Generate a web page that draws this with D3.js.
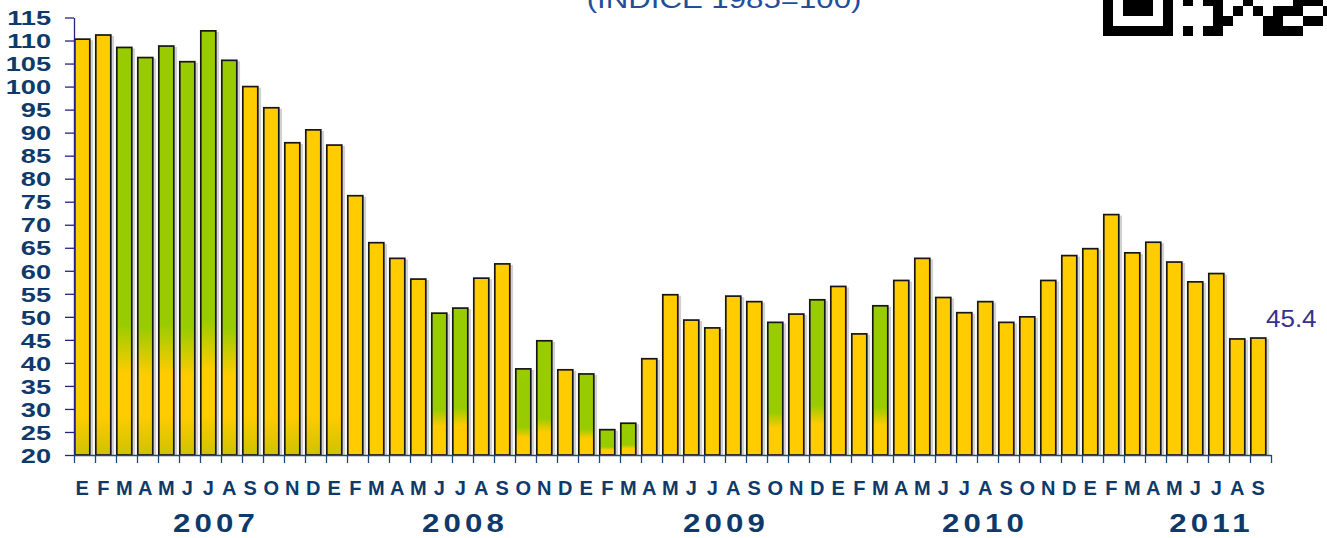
<!DOCTYPE html>
<html>
<head>
<meta charset="utf-8">
<script src="https://cdn.jsdelivr.net/npm/d3@7"></script>
<style>
  html, body { margin: 0; padding: 0; background: #fff; }
  svg { display: block; }
  text { font-family: "Liberation Sans", Arial, sans-serif; }
</style>
</head>
<body>
<svg id="chart" width="1327" height="538"></svg>
<script>
// ---------------- DATA ----------------
const title = "(INDICE 1985=100)";
const monthLetters = ["E","F","M","A","M","J","J","A","S","O","N","D"];
const years = [2007, 2008, 2009, 2010, 2011];
const monthsPerYear = [12, 12, 12, 12, 9];
const values = [
  110.3, 111.2, 108.5, 106.3, 108.8, 105.4, 112.1, 105.7, 100.0, 95.4, 87.8, 90.6,
  87.3, 76.3, 66.1, 62.7, 58.2, 50.8, 51.9, 58.4, 61.5, 38.7, 44.8, 38.5,
  37.6, 25.5, 26.9, 40.9, 54.8, 49.3, 47.6, 54.5, 53.3, 48.8, 50.6, 53.7,
  56.6, 46.3, 52.4, 57.9, 62.7, 54.2, 50.9, 53.3, 48.8, 50.0, 57.9, 63.3,
  64.8, 72.2, 63.9, 66.2, 61.9, 57.6, 59.4, 45.2, 45.4
];
const highlighted = [
  0,0,1,1,1,1,1,1,0,0,0,0,
  0,0,0,0,0,1,1,0,0,1,1,0,
  1,1,1,0,0,0,0,0,0,1,0,1,
  0,0,1,0,0,0,0,0,0,0,0,0,
  0,0,0,0,0,0,0,0,0
];
const yTicks = [20,25,30,35,40,45,50,55,60,65,70,75,80,85,90,95,100,105,110,115];
const lastLabel = "45.4";

// build categories
const categories = [];
years.forEach((yr, yi) => {
  for (let m = 0; m < monthsPerYear[yi]; m++) {
    categories.push({ year: yr, month: monthLetters[m], yi: yi });
  }
});
const bars = categories.map((c, i) => ({ ...c, i, v: values[i], hl: highlighted[i] }));

// ---------------- LAYOUT ----------------
const svg = d3.select("#chart");
const X0 = 74, X1 = 1271, Y0 = 455, Y1 = 17.5;
const navy = "#0e3a6b";

const x = d3.scaleBand().domain(d3.range(bars.length)).range([X0, X1]).paddingInner(0).paddingOuter(0);
const xb = d3.scaleLinear().domain([0, bars.length]).range([X0, X1]);
const y = d3.scaleLinear().domain([20, 115]).range([Y0, Y1]);
const bw = x.step() * 0.79;

const GREEN = "#99cc00", YELLOW = "#ffcc00", OLIVE = "#cfc200";

// gradients per bar
const defs = svg.append("defs");
bars.forEach(b => {
  const h = Y0 - y(b.v);
  const g = defs.append("linearGradient").attr("id", "g" + b.i)
    .attr("x1", 0).attr("y1", 0).attr("x2", 0).attr("y2", 1);
  const stops = [];
  const frac = px => Math.max(0, Math.min(1, 1 - px / h));
  if (b.hl) {
    stops.push([0, GREEN]);
    stops.push([frac(h * 0.32), GREEN]);
    stops.push([frac(h * 0.2), YELLOW]);
  } else {
    stops.push([0, YELLOW]);
  }
  if (h > 280) {
    stops.push([frac(40), YELLOW]);
    stops.push([1, OLIVE]);
  } else {
    stops.push([1, YELLOW]);
  }
  stops.forEach(s => g.append("stop").attr("offset", s[0]).attr("stop-color", s[1]));
});

// shadows
svg.append("g").selectAll("rect").data(bars).join("rect")
  .attr("x", d => x(d.i) + 2.5)
  .attr("y", d => y(d.v) + 1)
  .attr("width", bw)
  .attr("height", d => Y0 - y(d.v) - 1)
  .attr("fill", "#9a9a9a")
  .attr("opacity", 0.45);

// bars
svg.append("g").selectAll("rect").data(bars).join("rect")
  .attr("x", d => x(d.i) + 0.8)
  .attr("y", d => y(d.v))
  .attr("width", bw - 1.6)
  .attr("height", d => Y0 - y(d.v))
  .attr("fill", d => `url(#g${d.i})`)
  .attr("stroke", "#161616")
  .attr("stroke-width", 1.7);

// y axis
const yAxis = svg.append("g").attr("transform", `translate(${X0},0)`)
  .call(d3.axisLeft(y).tickValues(yTicks).tickSize(9).tickSizeOuter(0).tickPadding(0));
yAxis.select(".domain").attr("stroke", "#22228a").attr("stroke-width", 1.3);
yAxis.selectAll(".tick line").attr("stroke", "#22228a").attr("stroke-width", 1.3);
const ysx = 1.36;
yAxis.selectAll(".tick text")
  .attr("x", -23 / ysx)
  .attr("dy", "0.36em")
  .attr("transform", `scale(${ysx},1)`)
  .attr("fill", navy)
  .attr("font-size", 20)
  .attr("font-weight", "bold")
  .attr("font-family", "Liberation Sans, Arial, sans-serif");

// x axis (ticks at band boundaries)
const xAxis = svg.append("g").attr("transform", `translate(0,${Y0})`)
  .call(d3.axisBottom(xb).tickValues(d3.range(0, bars.length + 1)).tickSize(8).tickSizeOuter(0).tickFormat(""));
xAxis.select(".domain").attr("stroke", "#1f4a7c").attr("stroke-width", 1.3);
xAxis.selectAll(".tick line").attr("stroke", "#1f4a7c").attr("stroke-width", 1.3);

// month letters
svg.append("g").selectAll("text").data(bars).join("text")
  .attr("x", d => x(d.i) + bw / 2)
  .attr("y", 495)
  .attr("text-anchor", "middle")
  .attr("font-size", 20)
  .attr("font-weight", "bold")
  .attr("fill", navy)
  .text(d => d.month);

// year labels
const yearShift = [16, 13, 22, 29, 35];
const ysc = 1.2;
let start = 0;
years.forEach((yr, yi) => {
  const n = monthsPerYear[yi];
  const cx = (x(start) + x(start + n - 1) + x.step()) / 2 + yearShift[yi];
  start += n;
  svg.append("text")
    .attr("transform", `translate(${cx},532) scale(${ysc},1)`)
    .attr("text-anchor", "middle")
    .attr("font-size", 26)
    .attr("font-weight", "bold")
    .attr("letter-spacing", 3.5)
    .attr("fill", navy)
    .text(String(yr));
});

// title (partially cut at top)
svg.append("text")
  .attr("transform", `translate(724,8) scale(1.2,1)`)
  .attr("text-anchor", "middle")
  .attr("font-size", 26)
  .attr("fill", "#1f4f9a")
  .text(title);

// last value label
const li = bars.length - 1;
svg.append("text")
  .attr("transform", `translate(${x(li) + 16},${y(values[li]) - 11}) scale(1.13,1)`)
  .attr("font-size", 23)
  .attr("fill", "#333388")
  .text(lastLabel);

// QR code fragment (decorative)
const qrRows = [
  "10111010101100100001110",
  "10111010000101010111001",
  "10000010000110001100110",
  "11111110101100001111000"
];
const qr = svg.append("g");
qrRows.forEach((row, r) => {
  for (let c = 0; c < row.length; c++) {
    if (row[c] === "1") {
      qr.append("rect").attr("x", 1103 + c * 10).attr("y", -4 + r * 10)
        .attr("width", 10).attr("height", 10).attr("fill", "#000");
    }
  }
});
</script>
</body>
</html>
